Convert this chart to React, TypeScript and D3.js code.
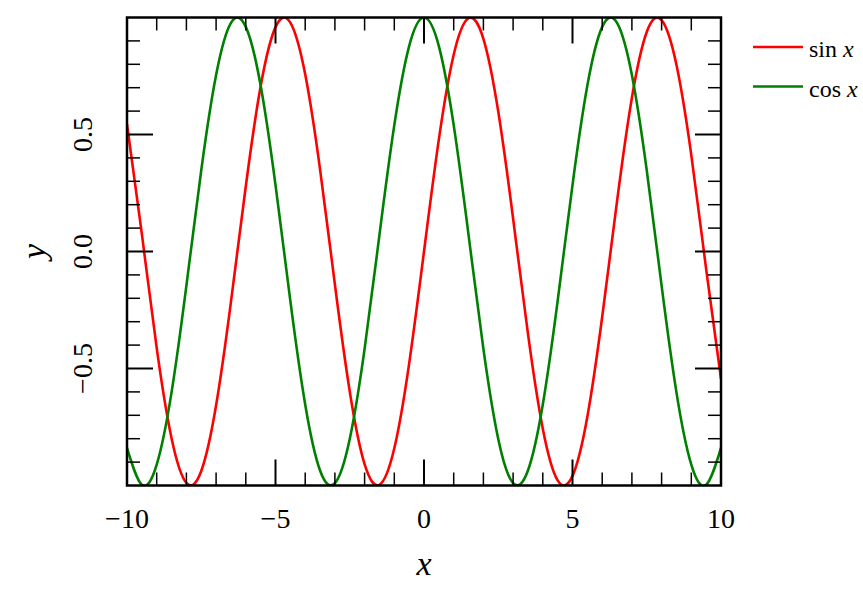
import React from "react";
import * as d3 from "d3";

const xValues = [-10, -9.5, -9, -8.5, -8, -7.5, -7, -6.5, -6, -5.5, -5, -4.5, -4, -3.5, -3, -2.5, -2, -1.5, -1, -0.5, 0, 0.5, 1, 1.5, 2, 2.5, 3, 3.5, 4, 4.5, 5, 5.5, 6, 6.5, 7, 7.5, 8, 8.5, 9, 9.5, 10];
const sinValues = [0.544, 0.075, -0.412, -0.798, -0.989, -0.938, -0.657, -0.215, 0.279, 0.706, 0.959, 0.978, 0.757, 0.351, -0.141, -0.598, -0.909, -0.997, -0.841, -0.479, 0, 0.479, 0.841, 0.997, 0.909, 0.598, 0.141, -0.351, -0.757, -0.978, -0.959, -0.706, -0.279, 0.215, 0.657, 0.938, 0.989, 0.798, 0.412, -0.075, -0.544];
const cosValues = [-0.839, -0.997, -0.911, -0.602, -0.146, 0.347, 0.754, 0.977, 0.96, 0.709, 0.284, -0.211, -0.654, -0.936, -0.99, -0.801, -0.416, 0.071, 0.54, 0.878, 1, 0.878, 0.54, 0.071, -0.416, -0.801, -0.99, -0.936, -0.654, -0.211, 0.284, 0.709, 0.96, 0.977, 0.754, 0.347, -0.146, -0.602, -0.911, -0.997, -0.839];

const xMajorTicks = [-10, -5, 0, 5, 10];
const xMinorTicks = [-9, -8, -7, -6, -4, -3, -2, -1, 1, 2, 3, 4, 6, 7, 8, 9];
const yMajorTicks = [-0.5, 0, 0.5];
const yMinorTicks = [-0.9, -0.8, -0.7, -0.6, -0.4, -0.3, -0.2, -0.1, 0.1, 0.2, 0.3, 0.4, 0.6, 0.7, 0.8, 0.9];
const xTickLabels = ["\u221210", "\u22125", "0", "5", "10"];
const yTickLabels = ["\u22120.5", "0.0", "0.5"];

const seriesNames = ["sin", "cos"];
const seriesColors = ["#ff0000", "#008000"];

const W = 863;
const H = 600;
const L = 127;
const R = 721;
const T = 17.5;
const B = 485.5;

export default function App() {
  const x = d3.scaleLinear().domain([-10, 10]).range([L, R]);
  const y = d3.scaleLinear().domain([-1, 1]).range([B, T]);
  const line = d3
    .line<number>()
    .x((_, i) => x(xValues[i]))
    .y((d) => y(d))
    .curve(d3.curveNatural);
  const series = [sinValues, cosValues];
  const MAJ = 26;
  const MIN = 13;
  const font = "'Liberation Serif', 'DejaVu Serif', serif";

  return (
    <svg width={W} height={H} style={{ position: "absolute", left: 0, top: 0, background: "#fff" }}>
      <defs>
        <clipPath id="plotclip">
          <rect x={L} y={T} width={R - L} height={B - T} />
        </clipPath>
      </defs>
      <g clipPath="url(#plotclip)">
        {series.map((s, i) => (
          <path key={i} d={line(s) || ""} fill="none" stroke={seriesColors[i]} strokeWidth={2.6} strokeLinejoin="round" />
        ))}
      </g>
      <g stroke="#000">
        {xMajorTicks.map((t) => (
          <g key={"xM" + t} strokeWidth={2}>
            <line x1={x(t)} x2={x(t)} y1={B} y2={B - MAJ} />
            <line x1={x(t)} x2={x(t)} y1={T} y2={T + MAJ} />
          </g>
        ))}
        {xMinorTicks.map((t) => (
          <g key={"xm" + t} strokeWidth={1.5}>
            <line x1={x(t)} x2={x(t)} y1={B} y2={B - MIN} />
            <line x1={x(t)} x2={x(t)} y1={T} y2={T + MIN} />
          </g>
        ))}
        {yMajorTicks.map((t) => (
          <g key={"yM" + t} strokeWidth={2}>
            <line x1={L} x2={L + MAJ} y1={y(t)} y2={y(t)} />
            <line x1={R} x2={R - MAJ} y1={y(t)} y2={y(t)} />
          </g>
        ))}
        {yMinorTicks.map((t) => (
          <g key={"ym" + t} strokeWidth={1.5}>
            <line x1={L} x2={L + MIN} y1={y(t)} y2={y(t)} />
            <line x1={R} x2={R - MIN} y1={y(t)} y2={y(t)} />
          </g>
        ))}
      </g>
      <rect x={L} y={T} width={R - L} height={B - T} fill="none" stroke="#000" strokeWidth={2.5} />
      <g fontFamily={font} fontSize={28} fill="#000">
        {xMajorTicks.map((t, i) => (
          <text key={"xl" + t} x={x(t)} y={528} textAnchor="middle">
            {xTickLabels[i]}
          </text>
        ))}
        {yMajorTicks.map((t, i) => (
          <text key={"yl" + t} transform={`translate(92,${y(t)}) rotate(-90)`} textAnchor="middle">
            {yTickLabels[i]}
          </text>
        ))}
      </g>
      <text x={x(0)} y={575} textAnchor="middle" fontFamily={font} fontStyle="italic" fontSize={34}>
        x
      </text>
      <text transform={`translate(45,${y(0)}) rotate(-90)`} textAnchor="middle" fontFamily={font} fontStyle="italic" fontSize={34}>
        y
      </text>
      {seriesNames.map((n, i) => (
        <g key={n}>
          <line x1={753} x2={803} y1={47 + i * 39.5} y2={47 + i * 39.5} stroke={seriesColors[i]} strokeWidth={2.6} />
          <text x={809} y={57 + i * 39.5} fontFamily={font} fontSize={24}>
            {n}
            <tspan dx={6} fontStyle="italic">x</tspan>
          </text>
        </g>
      ))}
    </svg>
  );
}
